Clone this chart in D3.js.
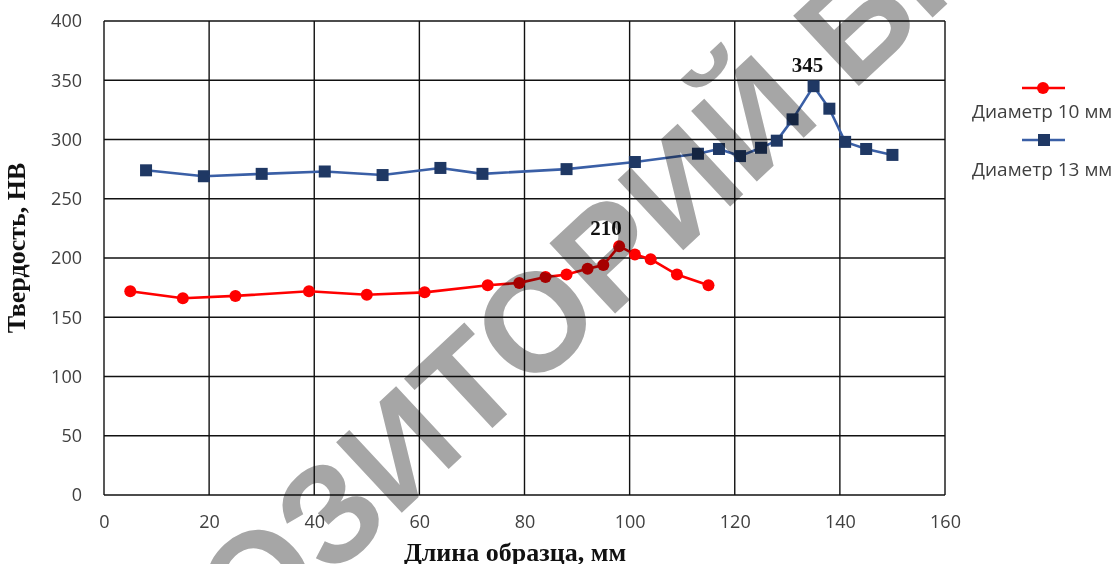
<!DOCTYPE html>
<html>
<head>
<meta charset="utf-8">
<script src="https://cdn.jsdelivr.net/npm/d3@7"></script>
<style>
  html, body { margin: 0; padding: 0; background: #fff; }
  svg { display: block; }
</style>
</head>
<body>
<svg id="chart" width="1116" height="564"></svg>
<script>
// Hardness profile along the sample length, two sample diameters
const len10 = [5, 15, 25, 39, 50, 61, 73, 79, 84, 88, 92, 95, 98, 101, 104, 109, 115];
const hb10  = [172, 166, 168, 172, 169, 171, 177, 179, 184, 186, 191, 194, 210, 203, 199, 186, 177];
const len13 = [8, 19, 30, 42, 53, 64, 72, 88, 101, 113, 117, 121, 125, 128, 131, 135, 138, 141, 145, 150];
const hb13  = [274, 269, 271, 273, 270, 276, 271, 275, 281, 288, 292, 286, 293, 299, 317, 345, 326, 298, 292, 287];

const xTicks = [0, 20, 40, 60, 80, 100, 120, 140, 160];
const yTicks = [0, 50, 100, 150, 200, 250, 300, 350, 400];
const seriesNames = ["Диаметр 10 мм", "Диаметр 13 мм"];
const xTitle = "Длина образца, мм";
const yTitle = "Твердость, НВ";
const peakLabels = [
  { series: 0, x: 98, y: 210 },
  { series: 1, x: 135, y: 345 }
];

const svg = d3.select("#chart");
const plot = { left: 104, top: 21, right: 945, bottom: 495 };

const x = d3.scaleLinear().domain([0, 160]).range([plot.left, plot.right]);
const y = d3.scaleLinear().domain([0, 400]).range([plot.bottom, plot.top]);

const sansFont = "'Open Sans', 'Noto Sans', sans-serif";
const serifFont = "'Liberation Serif', 'DejaVu Serif', serif";
const tickColor = "#404040";
const red = "#ff0000";
const blueLine = "#3a5fa6";
const blueMark = "#1f3864";

// grid
const grid = svg.append("g").attr("stroke", "#111").attr("stroke-width", 1.4);
grid.selectAll("line.v").data(xTicks).join("line")
  .attr("x1", d => x(d)).attr("x2", d => x(d))
  .attr("y1", y(0)).attr("y2", y(400));
grid.selectAll("line.h").data(yTicks).join("line")
  .attr("x1", x(0)).attr("x2", x(160))
  .attr("y1", d => y(d)).attr("y2", d => y(d));

// axes (labels only, lines come from the grid)
const yAxis = svg.append("g").attr("transform", `translate(${plot.left},0)`)
  .call(d3.axisLeft(y).tickValues(yTicks).tickSize(0).tickPadding(22));
const xAxis = svg.append("g").attr("transform", `translate(0,${plot.bottom})`)
  .call(d3.axisBottom(x).tickValues(xTicks).tickSize(0).tickPadding(20));
[xAxis, yAxis].forEach(a => {
  a.select(".domain").remove();
  a.selectAll("text").attr("font-family", sansFont).attr("font-size", 18).attr("fill", tickColor);
});

// axis titles
svg.append("text").text(xTitle)
  .attr("x", 515).attr("y", 561)
  .attr("text-anchor", "middle")
  .attr("font-family", serifFont).attr("font-weight", "bold").attr("font-size", 26)
  .attr("fill", "#111");
svg.append("text").text(yTitle)
  .attr("transform", "translate(25,248) rotate(-90)")
  .attr("text-anchor", "middle")
  .attr("font-family", serifFont).attr("font-weight", "bold").attr("font-size", 26)
  .attr("fill", "#111");

// series
const line = d3.line().x(d => x(d[0])).y(d => y(d[1]));
const s10 = len10.map((v, i) => [v, hb10[i]]);
const s13 = len13.map((v, i) => [v, hb13[i]]);

svg.append("path").datum(s13).attr("d", line)
  .attr("fill", "none").attr("stroke", blueLine).attr("stroke-width", 2.6)
  .attr("stroke-linejoin", "round");
svg.append("g").selectAll("rect").data(s13).join("rect")
  .attr("x", d => x(d[0]) - 6).attr("y", d => y(d[1]) - 6)
  .attr("width", 12).attr("height", 12).attr("fill", blueMark);

svg.append("path").datum(s10).attr("d", line)
  .attr("fill", "none").attr("stroke", red).attr("stroke-width", 2.6)
  .attr("stroke-linejoin", "round");
svg.append("g").selectAll("circle").data(s10).join("circle")
  .attr("cx", d => x(d[0])).attr("cy", d => y(d[1])).attr("r", 6).attr("fill", red);

// peak value labels, nudged up-left of their points
const labelNudge = [{ dx: -13, dy: -11 }, { dx: -6, dy: -14 }];
svg.append("g").selectAll("text").data(peakLabels).join("text")
  .text(d => d.y)
  .attr("x", (d, i) => x(d.x) + labelNudge[i].dx)
  .attr("y", (d, i) => y(d.y) + labelNudge[i].dy)
  .attr("text-anchor", "middle")
  .attr("font-family", serifFont).attr("font-weight", "bold").attr("font-size", 21)
  .attr("fill", "#111");

// legend
const legend = svg.append("g");
const legendRows = [
  { name: seriesNames[0], color: red, marker: "circle", ly: 88, ty: 118 },
  { name: seriesNames[1], color: blueLine, marker: "square", ly: 140, ty: 176 }
];
legendRows.forEach(r => {
  legend.append("line").attr("x1", 1022).attr("x2", 1065)
    .attr("y1", r.ly).attr("y2", r.ly)
    .attr("stroke", r.color).attr("stroke-width", 2.6);
  if (r.marker === "circle") {
    legend.append("circle").attr("cx", 1043).attr("cy", r.ly).attr("r", 6).attr("fill", red);
  } else {
    legend.append("rect").attr("x", 1038).attr("y", r.ly - 6)
      .attr("width", 12).attr("height", 12).attr("fill", blueMark);
  }
  legend.append("text").text(r.name)
    .attr("x", 972).attr("y", r.ty)
    .attr("font-family", sansFont).attr("font-size", 19).attr("fill", tickColor);
});

// repository stamp across the sheet
svg.append("text").text("РЕПОЗИТОРИЙ БНТУ")
  .attr("transform", "translate(41,849) rotate(-43)")
  .attr("font-family", "'Liberation Sans', Arial, sans-serif")
  .attr("font-weight", "bold")
  .attr("font-size", 140)
  .attr("fill", "#a6a6a6")
  .style("mix-blend-mode", "multiply");
</script>
</body>
</html>
